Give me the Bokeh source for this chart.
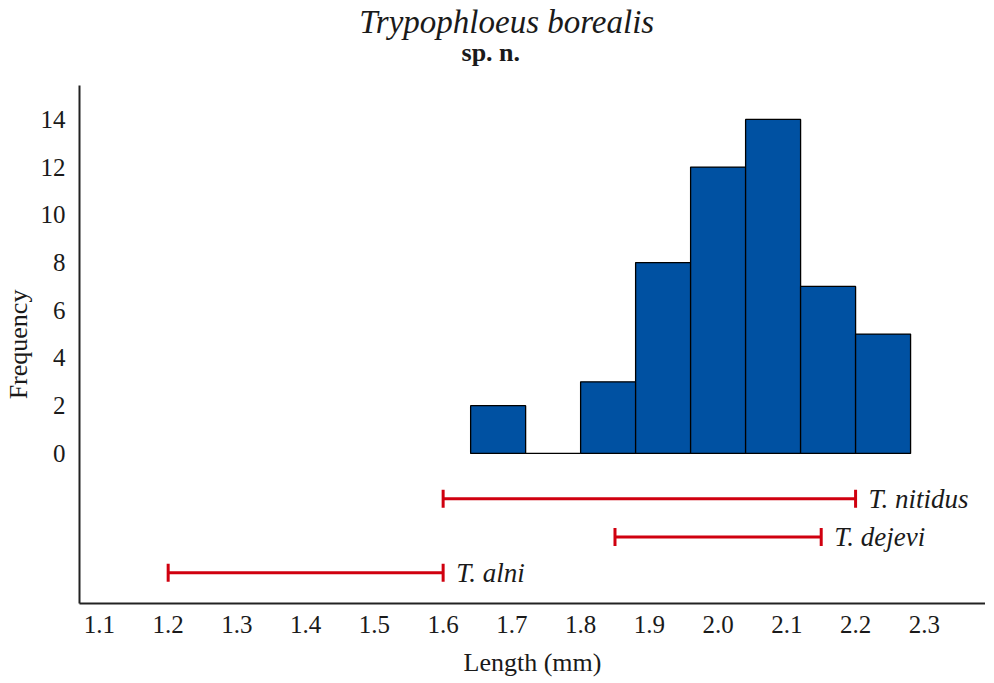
import numpy as np
from bokeh.plotting import figure
from bokeh.layouts import column
from bokeh.models import FixedTicker, ColumnDataSource, NumeralTickFormatter, Range1d
from bokeh.core.properties import value
from bokeh.embed import file_html
from bokeh.resources import INLINE

# --- data ---
bin_left = [1.64, 1.72, 1.80, 1.88, 1.96, 2.04, 2.12, 2.20]
bin_right = [1.72, 1.80, 1.88, 1.96, 2.04, 2.12, 2.20, 2.28]
counts = [2, 0, 3, 8, 12, 14, 7, 5]

species = ["T. nitidus", "T. dejevi", "T. alni"]
range_low = [1.60, 1.85, 1.20]
range_high = [2.20, 2.15, 1.60]
range_y = [-1.9, -3.5, -5.0]

x_ticks = [1.1, 1.2, 1.3, 1.4, 1.5, 1.6, 1.7, 1.8, 1.9, 2.0, 2.1, 2.2, 2.3]
y_ticks = [0, 2, 4, 6, 8, 10, 12, 14]

title_text = "Trypophloeus borealis"
subtitle_text = "sp. n."

FONT = "Liberation Serif"
BLUE = "#0051A2"
RED = "#D0000F"
INK = "#1a1a1a"

W = 978
HEAD = 85

# ---- header (title + subtitle) ----
h = figure(width=W, height=HEAD, x_range=Range1d(72, W), y_range=Range1d(HEAD, 0),
           x_axis_type=None, y_axis_type=None, output_backend="svg",
           toolbar_location=None, min_border=0)
h.grid.visible = False
h.outline_line_color = None
h.text(x=[354], y=[21], text=[title_text], text_font=value(FONT),
       text_font_style="italic", text_font_size="33px", text_color=INK,
       text_baseline="alphabetic", text_align="left")
h.text(x=[457], y=[52], text=[subtitle_text], text_font=value(FONT),
       text_font_style="bold", text_font_size="26px", text_color=INK,
       text_baseline="alphabetic", text_align="left")

# ---- main chart ----
p = figure(frame_width=906, frame_height=518,
           x_range=(1.071, 2.389), y_range=(-6.29, 15.42),
           output_backend="svg", toolbar_location=None,
           min_border_left=72, min_border_right=0, min_border_top=0,
           min_border_bottom=66)

src = ColumnDataSource(dict(left=bin_left, right=bin_right, top=counts,
                            bottom=[0] * len(counts)))
p.quad(left="left", right="right", top="top", bottom="bottom", source=src,
       fill_color=BLUE, line_color="black", line_width=1.3)

rsrc = ColumnDataSource(dict(lo=range_low, hi=range_high, y=range_y, name=species))
p.segment(x0="lo", x1="hi", y0="y", y1="y", source=rsrc, line_color=RED, line_width=3)
p.dash(x="lo", y="y", source=rsrc, size=18, angle=np.pi / 2, line_color=RED, line_width=3)
p.dash(x="hi", y="y", source=rsrc, size=18, angle=np.pi / 2, line_color=RED, line_width=3)
p.text(x="hi", y="y", text="name", source=rsrc, x_offset=13, text_baseline="middle",
       text_font=value(FONT), text_font_style="italic", text_font_size="27px",
       text_color=INK)

p.xgrid.visible = False
p.ygrid.visible = False
p.outline_line_color = None
p.background_fill_color = "white"
p.border_fill_color = "white"

for ax in (p.xaxis, p.yaxis):
    ax.major_tick_line_color = None
    ax.minor_tick_line_color = None
    ax.axis_line_color = "#222222"
    ax.axis_line_width = 2
    ax.major_label_text_font = FONT
    ax.major_label_text_font_size = "25px"
    ax.major_label_text_color = INK
    ax.axis_label_text_font = FONT
    ax.axis_label_text_font_size = "26px"
    ax.axis_label_text_font_style = "normal"
    ax.axis_label_text_color = INK

p.xaxis.ticker = FixedTicker(ticks=x_ticks)
p.yaxis.ticker = FixedTicker(ticks=y_ticks)
p.xaxis.formatter = NumeralTickFormatter(format="0.0")
p.xaxis.axis_label = "Length (mm)"
p.yaxis.axis_label = "Frequency"
p.xaxis.major_label_standoff = 6
p.xaxis.axis_label_standoff = 12
p.yaxis.major_label_standoff = 8
p.yaxis.axis_label_standoff = 5

layout = column(h, p, spacing=0)
open("out.html", "w").write(file_html(layout, INLINE))
